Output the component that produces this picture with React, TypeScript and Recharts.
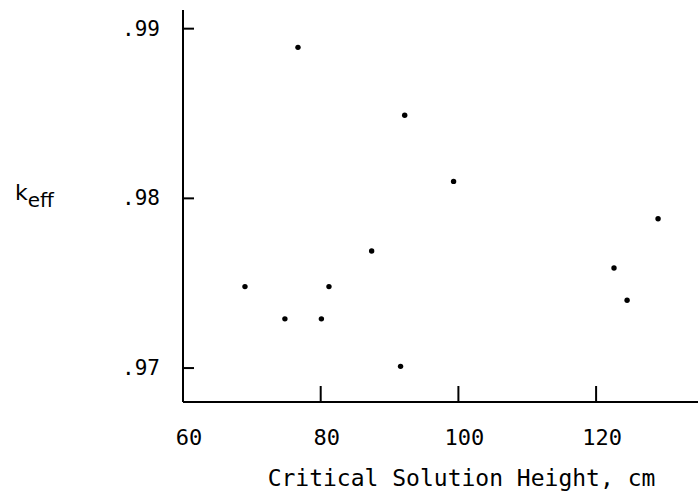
import React from 'react';
import { ScatterChart, Scatter, XAxis, YAxis, Label } from 'recharts';

// critical solution height (cm) vs k-eff
const heights = [69.0, 76.7, 74.8, 80.1, 81.2, 87.4, 91.6, 92.2, 99.3, 122.6, 124.5, 129.0];
const keff = [0.9748, 0.9889, 0.9729, 0.9729, 0.9748, 0.9769, 0.9701, 0.9849, 0.981, 0.9759, 0.974, 0.9788];

const xTicks = [60, 80, 100, 120];
const yTicks = [0.97, 0.98, 0.99];

const data = heights.map((h, i) => ({ h, k: keff[i] }));

const FONT = '"DejaVu Sans Mono", monospace';

const XTick = (props: any) => {
  const { x, payload } = props;
  const v = payload.value as number;
  return (
    <g>
      {v !== 60 && <line x1={x} x2={x} y1={402} y2={386} stroke="#000" strokeWidth={2} />}
      <text x={x + 6} y={437} textAnchor="middle" dominantBaseline="central" fontFamily={FONT} fontSize={22} fill="#000">
        {v}
      </text>
    </g>
  );
};

const YTick = (props: any) => {
  const { y, payload } = props;
  const v = payload.value as number;
  return (
    <g>
      <line x1={183} x2={194} y1={y} y2={y} stroke="#000" strokeWidth={2} />
      <text x={160} y={y} textAnchor="end" dominantBaseline="central" fontFamily={FONT} fontSize={21} fill="#000">
        {v.toFixed(2).replace(/^0/, '')}
      </text>
    </g>
  );
};

const Dot = (props: any) => <circle cx={props.cx} cy={props.cy} r={2.7} fill="#000" />;

export default function App() {
  return (
    <div style={{ position: 'absolute', left: 0, top: 0, background: '#fff' }}>
      <ScatterChart width={698} height={494} margin={{ top: 10, right: 0, bottom: 0, left: 0 }}>
        <XAxis
          type="number"
          dataKey="h"
          domain={[60, 134.8]}
          ticks={xTicks}
          allowDataOverflow
          height={92}
          tickLine={false}
          tick={<XTick />}
          axisLine={{ stroke: '#000', strokeWidth: 2 }}
        >
          <Label
            value="Critical Solution Height, cm"
            position="insideBottom"
            offset={8}
            dx={21}
            style={{ fontFamily: FONT, fontSize: 23, fill: '#000' }}
          />
        </XAxis>
        <YAxis
          type="number"
          dataKey="k"
          domain={[0.968, 0.9911]}
          ticks={yTicks}
          allowDataOverflow
          width={183}
          tickLine={false}
          tick={<YTick />}
          axisLine={{ stroke: '#000', strokeWidth: 2 }}
        />
        <text x={15} y={200} fontFamily='"DejaVu Sans", sans-serif' fontSize={22} fill="#000">
          k
          <tspan fontSize={20} dy={7}>eff</tspan>
        </text>
        <Scatter data={data} fill="#000" shape={<Dot />} isAnimationActive={false} />
      </ScatterChart>
    </div>
  );
}
